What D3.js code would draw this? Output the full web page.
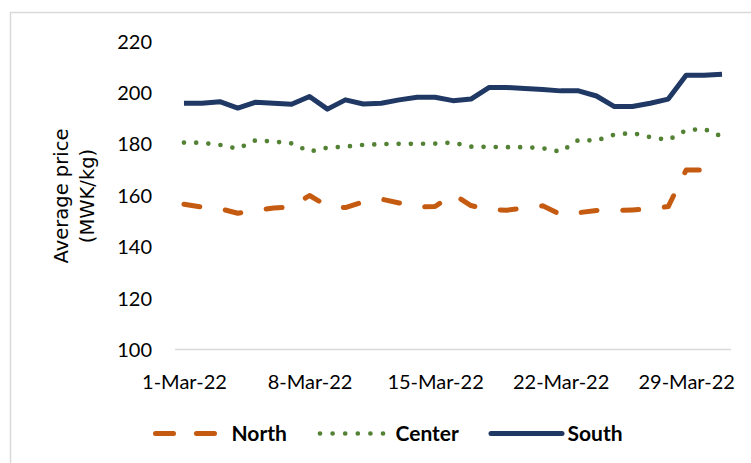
<!DOCTYPE html>
<html>
<head>
<meta charset="utf-8">
<script src="https://cdn.jsdelivr.net/npm/d3@7"></script>
<style>
  body { margin: 0; background: #fff; }
</style>
</head>
<body>
<div id="chart"></div>
<script>
// daily average prices, March 2022
const dates = ["1-Mar-22","2-Mar-22","3-Mar-22","4-Mar-22","5-Mar-22","6-Mar-22","7-Mar-22",
  "8-Mar-22","9-Mar-22","10-Mar-22","11-Mar-22","12-Mar-22","13-Mar-22","14-Mar-22",
  "15-Mar-22","16-Mar-22","17-Mar-22","18-Mar-22","19-Mar-22","20-Mar-22","21-Mar-22",
  "22-Mar-22","23-Mar-22","24-Mar-22","25-Mar-22","26-Mar-22","27-Mar-22","28-Mar-22",
  "29-Mar-22","30-Mar-22","31-Mar-22"];

const north = [156.5, 155.4, 154.8, 153.0, 154.2, 155.0, 155.5, 159.9, 155.8, 155.2, 157.4,
  158.5, 157.0, 155.4, 155.6, 160.5, 156.0, 154.3, 154.2, 155.0, 155.9, 152.5, 153.2, 154.1,
  154.0, 154.3, 154.7, 155.6, 169.8, 169.8, 169.8];
const center = [180.5, 180.4, 179.6, 178.1, 181.4, 180.9, 180.2, 177.0, 178.5, 178.9, 179.6,
  179.9, 180.0, 180.0, 180.1, 180.5, 178.9, 178.8, 178.7, 178.7, 178.3, 176.9, 181.5, 181.3,
  183.6, 184.2, 182.6, 181.5, 185.3, 185.8, 182.8];
const south = [195.8, 195.8, 196.4, 193.9, 196.2, 195.8, 195.4, 198.4, 193.5, 197.1, 195.5,
  195.8, 197.1, 198.1, 198.1, 196.8, 197.4, 201.9, 201.9, 201.5, 201.1, 200.6, 200.6, 198.6,
  194.5, 194.5, 195.8, 197.4, 206.7, 206.7, 207.1];

const seriesNames = ["North", "Center", "South"];
const yTicks = [100, 120, 140, 160, 180, 200, 220];
const xTickLabels = ["1-Mar-22", "8-Mar-22", "15-Mar-22", "22-Mar-22", "29-Mar-22"];

const width = 751, height = 463;
const plot = {left: 175, right: 731, top: 41, bottom: 349.5};

const parseDate = d3.timeParse("%d-%b-%y");
const tickFont = "Lato, 'Open Sans', sans-serif";

let svg = d3.select("#chart")
  .append("svg")
  .attr("width", width)
  .attr("height", height);

svg.append("rect")
  .attr("width", width).attr("height", height)
  .attr("fill", "#fff");

// chart area border (cut off at right and bottom)
svg.append("rect")
  .attr("x", 10.5).attr("y", 12.5)
  .attr("width", 800).attr("height", 500)
  .attr("fill", "none")
  .attr("stroke", "#d9d9d9")
  .attr("stroke-width", 1.5);

// half a day of padding on each side like Excel's date axis
let first = parseDate(dates[0]), last = parseDate(dates[dates.length - 1]);
var x = d3.scaleTime()
  .domain([d3.timeHour.offset(first, -12), d3.timeHour.offset(last, 12)])
  .range([plot.left, plot.right]);

var y = d3.scaleLinear()
  .domain([100, 220])
  .range([plot.bottom, plot.top]);

// y axis labels
let yAxis = svg.append("g")
  .attr("transform", `translate(${plot.left},0)`)
  .call(d3.axisLeft(y).tickValues(yTicks).tickSize(0).tickPadding(23));
yAxis.select(".domain").remove();
yAxis.selectAll("text")
  .attr("dy", "0.35em")
  .style("font-family", tickFont)
  .style("font-size", "20px")
  .attr("fill", "#000");

// baseline at 100
svg.append("line")
  .attr("x1", plot.left).attr("x2", plot.right)
  .attr("y1", y(100)).attr("y2", y(100))
  .attr("stroke", "#d9d9d9")
  .attr("stroke-width", 1.5);

// x axis labels
let xAxis = svg.append("g")
  .attr("transform", `translate(0,${plot.bottom})`)
  .call(d3.axisBottom(x)
    .tickValues(xTickLabels.map(parseDate))
    .tickFormat(d3.timeFormat("%-d-%b-%y"))
    .tickSize(0));
xAxis.select(".domain").remove();
xAxis.selectAll("text")
  .attr("y", 39.5)
  .attr("dy", 0)
  .style("font-family", tickFont)
  .style("font-size", "20px")
  .attr("fill", "#000");

// axis title, two lines
let titleFont = "'DejaVu Sans', sans-serif";
svg.append("text")
  .attr("transform", "translate(67.5,196) rotate(-90)")
  .style("text-anchor", "middle")
  .style("font-family", titleFont)
  .style("font-size", "19.5px")
  .text("Average price");
svg.append("text")
  .attr("transform", "translate(94,196) rotate(-90)")
  .style("text-anchor", "middle")
  .style("font-family", titleFont)
  .style("font-size", "19.5px")
  .text("(MWK/kg)");

const styles = {
  North:  {color: "#c55a11", dash: "16,25.7"},
  Center: {color: "#548235", dash: "0,12.2"},
  South:  {color: "#203864", dash: null}
};
const values = {North: north, Center: center, South: south};

let line = d3.line()
  .x(function(d) { return x(d.date); })
  .y(function(d) { return y(d.value); });

seriesNames.forEach(function(name) {
  let pts = dates.map(function(dt, i) {
    return {date: parseDate(dt), value: values[name][i]};
  });
  svg.append("path")
    .datum(pts)
    .attr("fill", "none")
    .attr("stroke", styles[name].color)
    .attr("stroke-width", name == "Center" ? 4.7 : 5)
    .attr("stroke-linecap", styles[name].dash ? "round" : "butt")
    .attr("stroke-linejoin", "round")
    .attr("stroke-dasharray", styles[name].dash)
    .attr("d", line);
});

// legend
const legendItems = [
  {name: "North", x1: 155.5, x2: 217, tx: 231.5, dash: "18,23"},
  {name: "Center", x1: 320, x2: 384, tx: 395.5, dash: "0,12.6"},
  {name: "South", x1: 491, x2: 562, tx: 567.5, dash: null}
];
let legend = svg.append("g");
legendItems.forEach(function(d) {
  legend.append("line")
    .attr("x1", d.x1).attr("x2", d.x2)
    .attr("y1", 433.5).attr("y2", 433.5)
    .attr("stroke", styles[d.name].color)
    .attr("stroke-width", d.name == "Center" ? 4.7 : 5)
    .attr("stroke-linecap", "round")
    .attr("stroke-dasharray", d.dash);
  legend.append("text")
    .attr("x", d.tx).attr("y", 441)
    .style("font-family", tickFont)
    .style("font-weight", "bold")
    .style("font-size", "21px")
    .text(d.name);
});
</script>
</body>
</html>
